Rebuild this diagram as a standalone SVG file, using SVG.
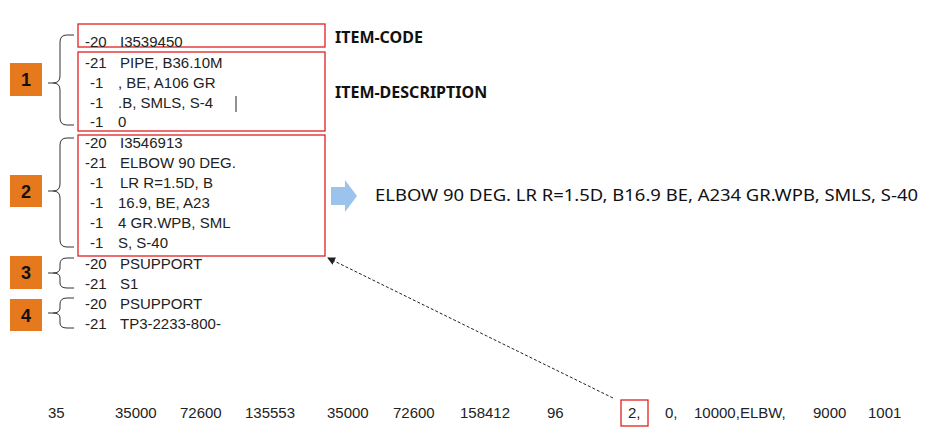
<svg xmlns="http://www.w3.org/2000/svg" width="933" height="437" viewBox="0 0 933 437">
<style>
.t{font-family:"Liberation Sans",Arial,sans-serif;font-size:15px;fill:#222}
.b{font-family:"Noto Sans","Liberation Sans",sans-serif;font-size:16px;font-weight:bold;fill:#111}
.e{font-family:"Noto Sans","Liberation Sans",sans-serif;font-size:16px;fill:#111}
.r{fill:none;stroke:#e02020;stroke-width:1.3}
.br{fill:none;stroke:#333;stroke-width:1}
.sq{fill:#e6781e}
.n{font-family:"Liberation Sans",Arial,sans-serif;font-size:18px;font-weight:bold;fill:#111;text-anchor:middle}
</style>
<defs><marker id="ah" markerWidth="8" markerHeight="8" refX="7" refY="4" orient="auto"><path d="M0,0 L8,4 L0,8 z" fill="#222"/></marker></defs>
<g id="box-code"><rect class="r" x="78" y="24" width="247" height="23"/></g>
<g id="box-desc"><rect class="r" x="78" y="52" width="247" height="79"/></g>
<g id="box-elbow"><rect class="r" x="78" y="135" width="247" height="121"/></g>
<g id="labels"><text class="b" x="335" y="43">ITEM-CODE</text><text class="b" x="335" y="98">ITEM-DESCRIPTION</text></g>
<g id="g1"><rect class="sq" x="10" y="63" width="32" height="33"/><text class="n" x="26" y="86">1</text>
<path class="br" d="M74,35 H67 Q60,35 60,42 V76 Q60,83 53,83 H48 M53,83 Q60,83 60,90 V118 Q60,125 67,125 H74"/></g>
<g id="g2"><rect class="sq" x="10" y="175" width="32" height="32"/><text class="n" x="26" y="198">2</text>
<path class="br" d="M74,138 H67 Q60,138 60,145 V184 Q60,191 53,191 H48 M53,191 Q60,191 60,198 V240 Q60,247 67,247 H74"/></g>
<g id="g3"><rect class="sq" x="10" y="256" width="32" height="33"/><text class="n" x="26" y="279">3</text>
<path class="br" d="M74,258 H67 Q60,258 60,264 V268 Q60,273 53,273 H48 M53,273 Q60,273 60,278 V283 Q60,288 67,288 H74"/></g>
<g id="g4"><rect class="sq" x="10" y="299" width="32" height="32"/><text class="n" x="26" y="322">4</text>
<path class="br" d="M74,298 H67 Q60,298 60,304 V308 Q60,313 53,313 H48 M53,313 Q60,313 60,318 V323 Q60,328 67,328 H74"/></g>
<g id="lines" class="t">
<text x="85" y="47">-20</text><text x="120" y="47">I3539450</text>
<text x="85" y="68">-21</text><text x="120" y="68">PIPE, B36.10M</text>
<text x="90" y="88">-1</text><text x="118" y="88">, BE, A106 GR</text>
<text x="90" y="108">-1</text><text x="118" y="108">.B, SMLS, S-4</text>
<path d="M236,96 V112" stroke="#222" stroke-width="1"/>
<text x="90" y="127">-1</text><text x="118" y="127">0</text>
<text x="85" y="148">-20</text><text x="120" y="148">I3546913</text>
<text x="85" y="168">-21</text><text x="120" y="168">ELBOW 90 DEG.</text>
<text x="90" y="188">-1</text><text x="120" y="188">LR R=1.5D, B</text>
<text x="90" y="208">-1</text><text x="118" y="208">16.9, BE, A23</text>
<text x="90" y="228">-1</text><text x="118" y="228">4 GR.WPB, SML</text>
<text x="90" y="248">-1</text><text x="118" y="248">S, S-40</text>
<text x="85" y="269">-20</text><text x="120" y="269">PSUPPORT</text>
<text x="85" y="289">-21</text><text x="120" y="289">S1</text>
<text x="85" y="309">-20</text><text x="120" y="309">PSUPPORT</text>
<text x="85" y="329">-21</text><text x="120" y="329">TP3-2233-800-</text>
</g>
<g id="result"><path d="M331,187 H345 V180 L357,196 L345,212 V205 H331 z" fill="#9cc3ec"/>
<text class="e" x="375" y="201" textLength="543" lengthAdjust="spacingAndGlyphs">ELBOW 90 DEG. LR R=1.5D, B16.9 BE, A234 GR.WPB, SMLS, S-40</text></g>
<g id="bottom" class="t">
<text x="48" y="418">35</text><text x="115" y="418">35000</text><text x="180" y="418">72600</text><text x="245" y="418">135553</text><text x="327" y="418">35000</text><text x="393" y="418">72600</text><text x="460" y="418">158412</text><text x="547" y="418">96</text>
<rect class="r" x="621" y="400" width="27" height="26"/>
<text x="628" y="418">2,</text><text x="665" y="418">0,</text><text x="694" y="418">10000,ELBW,</text><text x="813" y="418">9000</text><text x="868" y="418">1001</text>
</g>
<g id="connectors"><path d="M613,398 L328,258" stroke="#222" stroke-width="1" stroke-dasharray="3,2" fill="none" marker-end="url(#ah)"/></g>
</svg>
